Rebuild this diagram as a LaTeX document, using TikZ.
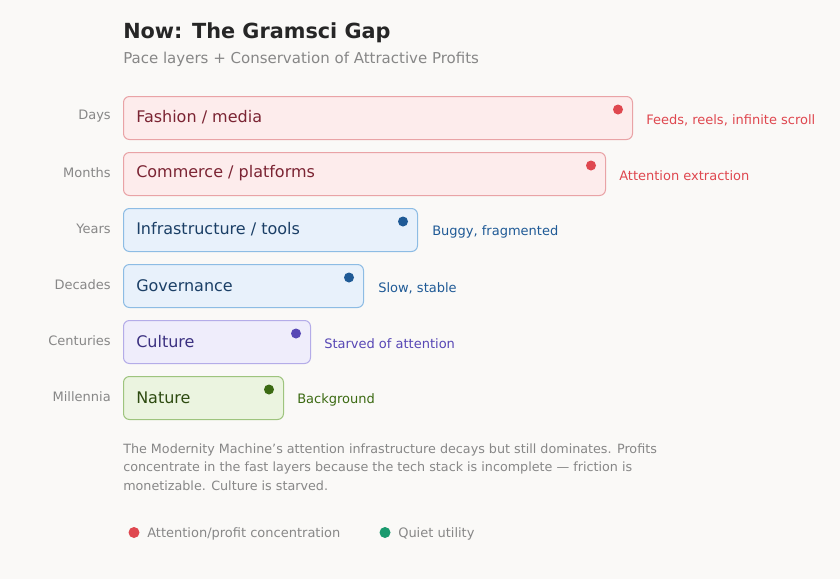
\documentclass[tikz,border=0pt]{standalone}
\usepackage{fontspec}
\setmainfont{DejaVu Sans}
\usepackage{xcolor}
\usetikzlibrary{positioning}

\definecolor{bgpaper}{HTML}{FAF9F7}
\definecolor{titleink}{HTML}{262626}
\definecolor{greyink}{HTML}{878787}
\definecolor{redfill}{HTML}{FDECEC}
\definecolor{redline}{HTML}{E9A3A6}
\definecolor{redtext}{HTML}{7B2433}
\definecolor{reddot}{HTML}{DF474F}
\definecolor{bluefill}{HTML}{E8F1FB}
\definecolor{blueline}{HTML}{8DBCE4}
\definecolor{bluetext}{HTML}{1B3F66}
\definecolor{bluedot}{HTML}{1F5A96}
\definecolor{purplefill}{HTML}{EFEDFB}
\definecolor{purpleline}{HTML}{B4ACE8}
\definecolor{purpletext}{HTML}{3B3080}
\definecolor{purpledot}{HTML}{5747B5}
\definecolor{greenfill}{HTML}{EBF4E0}
\definecolor{greenline}{HTML}{9EC47E}
\definecolor{greentext}{HTML}{2D4A10}
\definecolor{greendot}{HTML}{3B6A12}
\definecolor{quietdot}{HTML}{1A9A6E}

\tikzset{
  layerbox/.style={rounded corners=4.5pt, line width=0.75pt, anchor=north west,
    minimum height=32.25pt, inner sep=0pt},
  layername/.style={anchor=west, inner sep=0pt, font=\fontsize{12}{14}\selectfont},
  pace/.style={anchor=east, inner sep=0pt, text=greyink, font=\fontsize{9.75}{12}\selectfont},
  note/.style={anchor=west, inner sep=0pt, font=\fontsize{9.75}{12}\selectfont},
  marker/.style={circle, inner sep=0pt, minimum size=7.5pt},
}

\begin{document}
\begin{tikzpicture}[x=0.75pt, y=-0.75pt]
    \fill [bgpaper] (0,0) rectangle (840,579);
    \useasboundingbox (0,0) rectangle (840,579);

    % title
    \node [anchor=west, inner sep=0pt, text=titleink, font=\fontsize{15.6}{18}\selectfont\bfseries] (T) at (123,32.5) {Now: The Gramsci Gap};
    \node [anchor=west, inner sep=0pt, text=greyink, font=\fontsize{11.25}{14}\selectfont] (S) at (123,59) {Pace layers + Conservation of Attractive Profits};

    \coordinate (L1) at (123,96);
    \coordinate (L2) at (123,152);
    \coordinate (L3) at (123,208);
    \coordinate (L4) at (123,264);
    \coordinate (L5) at (123,320);
    \coordinate (L6) at (123,376);

    % boxes
    \node [layerbox, fill=redfill, draw=redline, minimum width=381.75pt] (B1) at (L1) {};
    \node [layerbox, fill=redfill, draw=redline, minimum width=361.5pt] (B2) at (L2) {};
    \node [layerbox, fill=bluefill, draw=blueline, minimum width=220.5pt] (B3) at (L3) {};
    \node [layerbox, fill=bluefill, draw=blueline, minimum width=180pt] (B4) at (L4) {};
    \node [layerbox, fill=purplefill, draw=purpleline, minimum width=140.25pt] (B5) at (L5) {};
    \node [layerbox, fill=greenfill, draw=greenline, minimum width=120pt] (B6) at (L6) {};

    % pace labels
    \node [pace] (P1) at (111,116.5) {Days};
    \node [pace] (P2) at (111,172.5) {Months};
    \node [pace] (P3) at (111,228.5) {Years};
    \node [pace] (P4) at (111,284.5) {Decades};
    \node [pace] (P5) at (111,340.5) {Centuries};
    \node [pace] (P6) at (111,396.5) {Millennia};

    % layer names
    \node [layername, text=redtext] (N1) at (136,117.5) {Fashion / media};
    \node [layername, text=redtext] (N2) at (136,173.5) {Commerce / platforms};
    \node [layername, text=bluetext] (N3) at (136,229.5) {Infrastructure / tools};
    \node [layername, text=bluetext] (N4) at (136,285.5) {Governance};
    \node [layername, text=purpletext] (N5) at (136,341.5) {Culture};
    \node [layername, text=greentext] (N6) at (136,397.5) {Nature};

    % dots
    \node [marker, fill=reddot] (D1) at (618,109.5) {};
    \node [marker, fill=reddot] (D2) at (591,165.5) {};
    \node [marker, fill=bluedot] (D3) at (403,221.5) {};
    \node [marker, fill=bluedot] (D4) at (349,277.5) {};
    \node [marker, fill=purpledot] (D5) at (296,333.5) {};
    \node [marker, fill=greendot] (D6) at (269,389.5) {};

    % notes
    \node [note, text=reddot] (R1) at (646,120) {Feeds, reels, infinite scroll};
    \node [note, text=reddot] (R2) at (619,176) {Attention extraction};
    \node [note, text=bluedot] (R3) at (432,232) {Buggy, fragmented};
    \node [note, text=bluedot] (R4) at (378,288) {Slow, stable};
    \node [note, text=purpledot] (R5) at (324,344) {Starved of attention};
    \node [note, text=greendot] (R6) at (297,400) {Background};

    % caption
    \node [anchor=north west, inner sep=0pt, align=left, text=greyink, font=\fontsize{9.55}{13.9}\selectfont] (C) at (123,443.5)
      {The Modernity Machine’s attention infrastructure decays but still dominates. Profits\\
       concentrate in the fast layers because the tech stack is incomplete — friction is\\
       monetizable. Culture is starved.};

    % legend
    \node [marker, fill=reddot, minimum size=8.25pt] (K1) at (134,532.5) {};
    \node [note, text=greyink] (K1T) at (147,533.5) {Attention/profit concentration};
    \node [marker, fill=quietdot, minimum size=8.25pt] (K2) at (385,532.5) {};
    \node [note, text=greyink] (K2T) at (398,533.5) {Quiet utility};
\end{tikzpicture}
\end{document}
